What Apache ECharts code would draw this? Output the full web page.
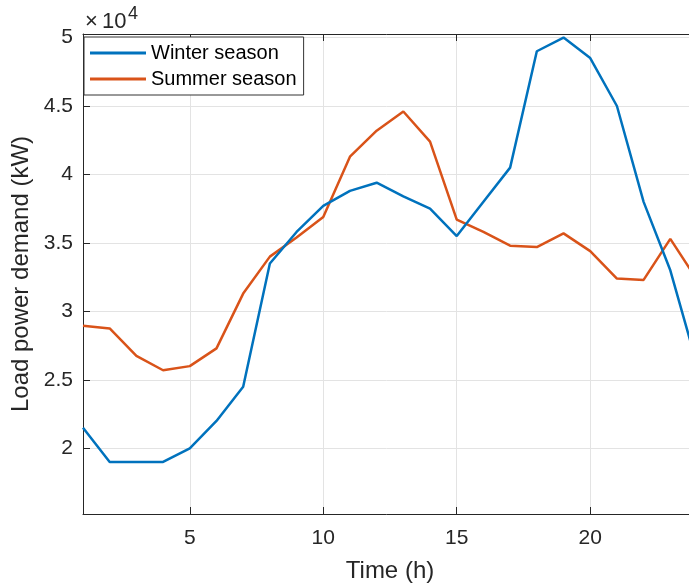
<!DOCTYPE html>
<html>
<head>
<meta charset="utf-8">
<script src="https://cdn.jsdelivr.net/npm/echarts@6/dist/echarts.min.js"></script>
<style>
  html, body { margin: 0; padding: 0; background: #fff; }
  #chart { width: 689px; height: 588px; }
</style>
</head>
<body>
<div id="chart"></div>
<script>
// Hourly load profile, 24 hours
var hours = [1, 2, 3, 4, 5, 6, 7, 8, 9, 10, 11, 12, 13, 14, 15, 16, 17, 18, 19, 20, 21, 22, 23, 24];
var winterLoad = [21500, 19000, 19000, 19000, 20000, 22000, 24500, 33500, 35800, 37700, 38800, 39400,
                  38400, 37500, 35500, 38000, 40500, 49000, 50000, 48500, 45000, 38000, 33000, 26100];
var summerLoad = [28950, 28750, 26750, 25700, 26000, 27300, 31300, 34000, 35400, 36900, 41300, 43200,
                  44600, 42400, 36700, 35800, 34800, 34700, 35700, 34400, 32400, 32300, 35300, 32300];
var xTicks = [5, 10, 15, 20];
var yTicks = [20000, 25000, 30000, 35000, 40000, 45000, 50000];

function pairs(xs, ys) {
  return xs.map(function (x, i) { return [x, ys[i]]; });
}

var FONT = 'Liberation Sans, Arial, Helvetica, sans-serif';
var INK = '#262626';
var GRID = '#e3e3e3';

var chart = echarts.init(document.getElementById('chart'), null, { renderer: 'canvas' });

chart.setOption({
  animation: false,
  backgroundColor: '#fff',
  textStyle: { fontFamily: FONT },
  // plot box runs a little past the right edge of the canvas
  grid: { left: 83, top: 34, right: -8, bottom: 74, containLabel: false, outerBoundsMode: 'none' },
  xAxis: [{
    type: 'value',
    min: 1,
    max: 24,
    name: 'Time (h)',
    nameLocation: 'middle',
    nameGap: 45,
    nameTextStyle: { fontFamily: FONT, fontSize: 24, color: INK },
    axisLine: { show: true, lineStyle: { color: INK, width: 1 } },
    axisTick: { show: true, inside: true, length: 7, customValues: xTicks, lineStyle: { color: INK } },
    axisLabel: { show: true, customValues: xTicks, fontFamily: FONT, fontSize: 21, color: INK, margin: 14 },
    splitLine: { show: true, lineStyle: { color: GRID, width: 1 } }
  }, {
    type: 'value',
    position: 'top',
    min: 1,
    max: 24,
    axisLine: { show: true, onZero: false, lineStyle: { color: INK, width: 1 } },
    axisTick: { show: true, inside: true, length: 7, customValues: xTicks, lineStyle: { color: INK } },
    axisLabel: { show: false },
    splitLine: { show: false }
  }],
  yAxis: [{
    type: 'value',
    min: 15200,
    max: 50260,
    name: 'Load power demand (kW)',
    nameLocation: 'middle',
    nameRotate: 90,
    nameGap: 48,
    nameTextStyle: { fontFamily: FONT, fontSize: 24, color: INK },
    axisLine: { show: true, lineStyle: { color: INK, width: 1 } },
    axisTick: { show: true, inside: true, length: 7, customValues: yTicks, lineStyle: { color: INK } },
    axisLabel: {
      show: true, customValues: yTicks, fontFamily: FONT, fontSize: 21, color: INK, margin: 10,
      formatter: function (v) { return String(v / 10000); }
    },
    splitLine: { show: true, lineStyle: { color: GRID, width: 1 } }
  }],
  legend: {
    orient: 'vertical',
    left: 84,
    top: 37,
    padding: [6, 7, 6, 6],
    itemGap: 6,
    itemWidth: 56,
    itemHeight: 3,
    icon: 'rect',
    backgroundColor: '#fff',
    borderColor: '#333',
    borderWidth: 1,
    borderRadius: 0,
    textStyle: { fontFamily: FONT, fontSize: 20, color: '#000', lineHeight: 20, padding: [0, 0, 0, 0] },
    data: ['Winter season', 'Summer season']
  },
  // axis exponent label
  graphic: [
    { type: 'text', left: 85, top: 11, style: { text: '\u00d7', font: '22px ' + FONT, fill: INK } },
    { type: 'text', left: 102, top: 11, style: { text: '10', font: '22px ' + FONT, fill: INK } },
    { type: 'text', left: 128, top: 5, style: { text: '4', font: '18px ' + FONT, fill: INK } }
  ],
  series: [{
    name: 'Winter season',
    type: 'line',
    data: pairs(hours, winterLoad),
    showSymbol: false,
    symbol: 'none',
    color: '#0072BD',
    lineStyle: { width: 2.5, color: '#0072BD' },
    z: 3
  }, {
    name: 'Summer season',
    type: 'line',
    data: pairs(hours, summerLoad),
    showSymbol: false,
    symbol: 'none',
    color: '#D95319',
    lineStyle: { width: 2.5, color: '#D95319' },
    z: 2
  }]
});
</script>
</body>
</html>
